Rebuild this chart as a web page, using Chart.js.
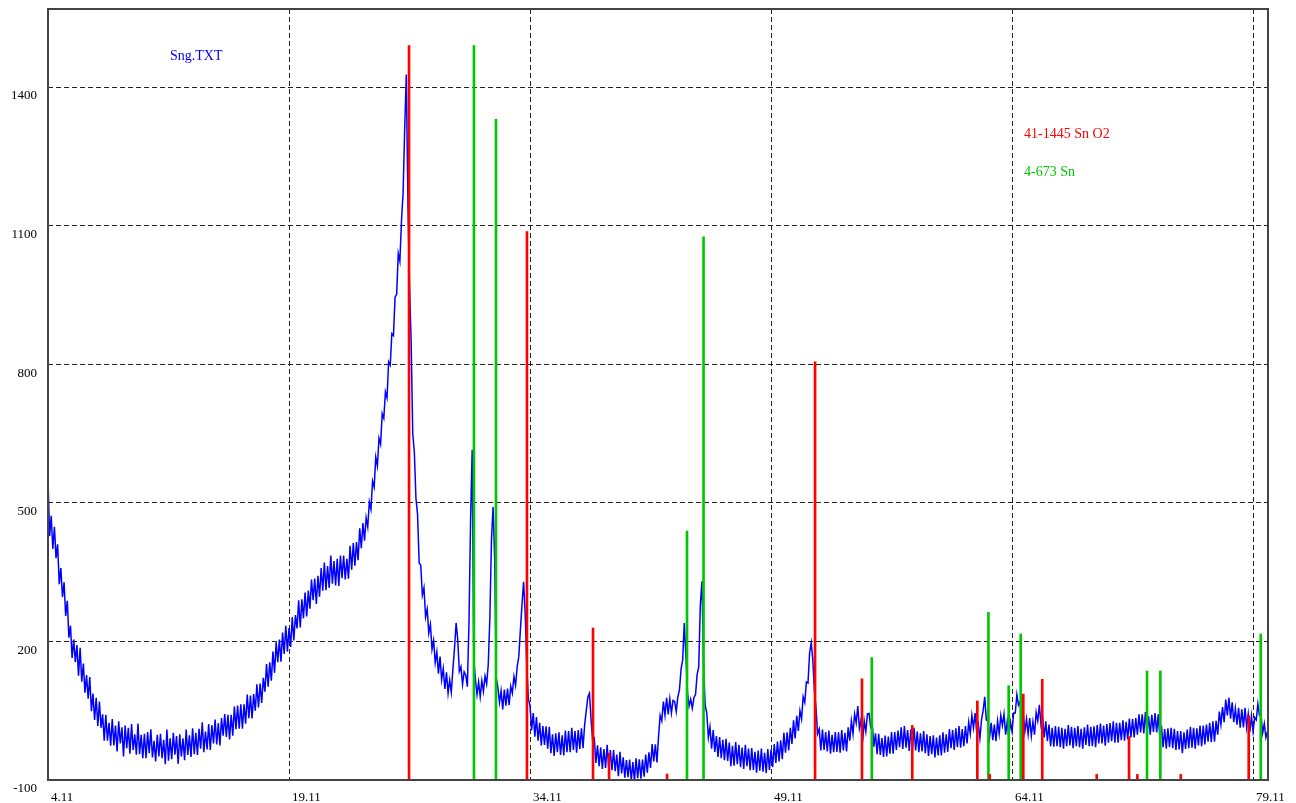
<!DOCTYPE html>
<html>
<head>
<meta charset="utf-8">
<script src="https://cdn.jsdelivr.net/npm/chart.js@4/dist/chart.umd.min.js"></script>
<style>
    html, body { margin: 0; padding: 0; background: #fff; }
    #wrap { width: 1296px; height: 803px; }
</style>
</head>
<body>
<div id="wrap"><canvas id="chart"></canvas></div>
<script>
// Scan: start angle and step (2-theta), then counts, one row per degree
const START_ANGLE = 4.11;
const STEP = 0.1;
const COUNTS = [
    550, 428, 472, 400, 448, 380, 410, 324, 359, 296,
    328, 255, 288, 208, 234, 164, 204, 155, 192, 126,
    186, 113, 152, 89, 127, 76, 123, 49, 87, 30,
    78, 17, 70, 13, 42, -15, 41, -15, 24, -26,
    32, -25, 18, -38, 27, -21, 14, -49, 18, -31,
    13, -43, 21, -35, -1, -45, 22, -44, -2, -53,
    0, -53, 4, -42, 10, -51, -15, -60, -2, -49,
    0, -53, -13, -66, 9, -58, -10, -55, 2, -45,
    -5, -65, -1, -49, -10, -57, 9, -46, -3, -50,
    12, -44, 2, -46, 11, -32, 25, -40, 5, -34,
    21, -35, 19, -21, 31, -23, 23, -25, 34, -4,
    43, -7, 41, -12, 41, -4, 59, 10, 61, 11,
    64, 11, 64, 22, 85, 34, 83, 33, 86, 50,
    107, 57, 109, 67, 121, 91, 151, 102, 155, 115,
    178, 132, 198, 155, 204, 156, 219, 173, 234, 178,
    229, 188, 252, 202, 257, 228, 289, 230, 291, 250,
    306, 254, 310, 271, 334, 289, 336, 281, 342, 297,
    359, 310, 371, 311, 363, 316, 386, 325, 374, 321,
    379, 320, 386, 337, 386, 334, 379, 336, 407, 355,
    413, 364, 415, 376, 445, 402, 456, 418, 468, 448,
    502, 486, 547, 534, 599, 580, 640, 627, 693, 683,
    740, 727, 805, 798, 866, 862, 945, 952, 1040, 1023,
    1110, 1170, 1310, 1427, 1150, 970, 850, 650, 610, 510,
    475, 370, 365, 300, 316, 253, 270, 218, 237, 183,
    202, 154, 177, 130, 167, 117, 141, 97, 133, 88,
    116, 90, 140, 185, 240, 205, 135, 145, 107, 134,
    127, 102, 240, 460, 615, 160, 118, 85, 112, 80,
    115, 92, 125, 108, 150, 250, 420, 491, 380, 120,
    100, 68, 93, 53, 96, 61, 98, 62, 103, 88,
    124, 105, 145, 167, 225, 280, 329, 260, 145, 75,
    61, 8, 45, -6, 36, -15, 24, -25, 17, -24,
    16, -32, 15, -42, -1, -48, 1, -40, 3, -46,
    -3, -47, 7, -40, 6, -40, 13, -35, 6, -41,
    8, -33, 12, -31, 20, 50, 80, 88, 30, -15,
    -10, -63, -25, -70, -29, -76, -33, -74, -24, -75,
    -35, -79, -35, -81, -45, -92, -39, -86, -51, -95,
    -57, -94, -56, -101, -61, -102, -53, -96, -55, -97,
    -56, -93, -45, -84, -40, -74, -22, -60, -23, -62,
    -5, 40, 28, 70, 40, 78, 42, 76, 45, 72,
    70, 48, 80, 95, 140, 160, 240, 170, 90, 60,
    75, 55, 78, 85, 128, 145, 280, 330, 150, 62,
    45, -8, 15, -32, 8, -39, -5, -50, -7, -53,
    -13, -57, -11, -59, -19, -70, -26, -69, -18, -66,
    -24, -72, -30, -76, -24, -70, -32, -79, -31, -78,
    -39, -84, -36, -80, -32, -82, -41, -85, -33, -78,
    -34, -72, -22, -63, -17, -60, -14, -55, 2, -41,
    3, -36, 13, -22, 29, -10, 39, 6, 50, 32,
    80, 68, 112, 110, 175, 197, 160, 92, 55, 0,
    10, -36, 9, -35, 4, -38, 7, -43, -2, -40,
    4, -39, 3, -41, 8, -36, 2, -38, 14, -15,
    28, 0, 43, 24, 60, 12, 30, -17, 28, 5,
    43, 44, 15, 22, -28, 1, -44, 0, -46, -9,
    -50, -4, -49, -6, -43, 4, -43, 4, -35, 7,
    -29, 14, -33, 17, -30, 8, -37, 9, -33, 13,
    -36, 5, -40, 1, -38, 6, -42, -1, -48, -5,
    -44, -3, -51, -8, -47, -3, -47, 3, -41, -1,
    -39, 10, -31, 8, -35, 12, -29, 17, -30, 10,
    -27, 17, -21, 25, 0, 40, 13, 45, 3, 20,
    -10, 30, 50, 80, 30, 28, -8, 24, -14, 20,
    -16, 28, 0, 40, 18, 43, -2, 27, -9, 25,
    5, 45, 45, 85, 62, 70, 28, 42, 5, 32,
    -1, 34, -5, 26, -2, 46, 28, 63, 20, 36,
    -8, 27, -16, 20, -27, 13, -28, 17, -27, 15,
    -29, 13, -32, 11, -27, 19, -25, 15, -31, 13,
    -27, 17, -29, 11, -32, 14, -24, 20, -27, 15,
    -27, 16, -29, 19, -21, 22, -21, 18, -26, 21,
    -19, 23, -16, 27, -19, 24, -19, 24, -14, 29,
    -15, 26, -12, 33, -8, 32, -8, 34, -2, 42,
    3, 42, 1, 47, 2, 38, -2, 41, 4, 45,
    3, 42, -10, 18, -29, 10, -32, 12, -29, 13,
    -31, 11, -35, 6, -34, 6, -42, 3, -33, 9,
    -31, 15, -30, 13, -32, 12, -25, 18, -27, 18,
    -23, 20, -17, 24, -18, 27, -17, 28, -2, 48,
    20, 58, 25, 74, 40, 78, 33, 68, 25, 55,
    20, 56, 13, 53, 14, 56, 14, 43, 4, 39,
    5, 35, 30, 65, 40, 38, 2, 22, -8, 5
];

// Reference cards (stick patterns)
const SNO2_ANGLES = [26.58, 33.92, 38.03, 39.03, 42.64, 51.85, 54.77, 57.90, 61.95, 62.72, 64.81, 65.99, 69.38, 71.39, 71.91, 74.61, 78.84];
const SNO2_TOPS = [1490, 1087, 229, -42, -87, 805, 119, 18, 71, -88, 86, 118, -88, -6, -88, -88, 39];
const SN_ANGLES = [30.62, 31.99, 43.88, 44.91, 55.38, 62.64, 63.90, 64.65, 72.51, 73.34, 79.59];
const SN_TOPS = [1490, 1330, 439, 1076, 165, 263, 104, 216, 136, 136, 216];

const X_TICKS = [4.11, 19.11, 34.11, 49.11, 64.11, 79.11];
const Y_TICKS = [-100, 200, 500, 800, 1100, 1400];
const X_MIN = 4.11, X_MAX = 80.04;
const Y_MIN = -100, Y_MAX = 1569;

const NOTES = [
    { text: 'Sng.TXT', color: '#0000FF', x: 11.7, y: 1466 },
    { text: '41-1445 Sn O2', color: '#FF0000', x: 64.86, y: 1297 },
    { text: '4-673 Sn', color: '#00C800', x: 64.86, y: 1215 }
];

const FONT = 'Liberation Serif';

let framePlugin = {
    id: 'frame',
    afterDatasetsDraw(chart) {
        let { ctx, chartArea: a, scales } = chart;

        ctx.save();
        ctx.strokeStyle = '#444';
        ctx.lineWidth = 2;
        ctx.strokeRect(a.left, a.top, a.right - a.left, a.bottom - a.top);

        ctx.font = '14px "' + FONT + '"';
        ctx.textBaseline = 'middle';
        ctx.textAlign = 'left';
        for (let note of NOTES) {
            ctx.fillStyle = note.color;
            ctx.fillText(note.text, scales.x.getPixelForValue(note.x), scales.y.getPixelForValue(note.y));
        }
        ctx.restore();
    }
};

let scan = COUNTS.map((v, i) => ({ x: START_ANGLE + i * STEP, y: v }));

function sticks(angles, tops) {
    return angles.map((a, i) => ({ x: a, y: [Y_MIN, tops[i]] }));
}

function noOverhang(scale) {
    scale.paddingTop = 0;
    scale.paddingBottom = 0;
    scale.paddingLeft = 0;
    scale.paddingRight = 0;
}

new Chart(document.getElementById('chart'), {
    type: 'line',
    plugins: [framePlugin],
    data: {
        datasets: [
            {
                label: 'Sng.TXT',
                data: scan,
                borderColor: '#0000FF',
                borderWidth: 1.5,
                pointRadius: 0,
                tension: 0,
                order: 1
            },
            {
                type: 'bar',
                label: '41-1445 Sn O2',
                data: sticks(SNO2_ANGLES, SNO2_TOPS),
                backgroundColor: '#FF0000',
                barThickness: 2,
                grouped: false,
                order: 0
            },
            {
                type: 'bar',
                label: '4-673 Sn',
                data: sticks(SN_ANGLES, SN_TOPS),
                backgroundColor: '#00C800',
                barThickness: 2,
                grouped: false,
                order: 0
            }
        ]
    },
    options: {
        responsive: true,
        maintainAspectRatio: false,
        animation: false,
        layout: { padding: { top: 9, right: 28, left: 0, bottom: 0 } },
        scales: {
            x: {
                type: 'linear',
                min: X_MIN,
                max: X_MAX,
                offset: false,
                afterBuildTicks: scale => { scale.ticks = X_TICKS.map(v => ({ value: v })); },
                afterFit: scale => { scale.height = 23; noOverhang(scale); },
                grid: {
                    offset: false,
                    color: ctx => ctx.tick && ctx.tick.value == X_TICKS[0] ? 'rgba(0,0,0,0)' : '#222',
                    lineWidth: 1,
                    drawTicks: false
                },
                border: { display: false, dash: [5, 3] },
                ticks: {
                    align: 'start',
                    labelOffset: 3,
                    padding: 10,
                    maxRotation: 0,
                    color: '#000',
                    font: { family: FONT, size: 13 },
                    callback: v => v.toFixed(2)
                }
            },
            y: {
                min: Y_MIN,
                max: Y_MAX,
                afterBuildTicks: scale => { scale.ticks = Y_TICKS.map(v => ({ value: v })); },
                afterFit: scale => { scale.width = 48; noOverhang(scale); },
                grid: {
                    offset: false,
                    color: ctx => ctx.tick && ctx.tick.value == Y_TICKS[0] ? 'rgba(0,0,0,0)' : '#222',
                    lineWidth: 1,
                    drawTicks: false
                },
                border: { display: false, dash: [5, 3] },
                ticks: {
                    labelOffset: 9,
                    padding: 11,
                    color: '#000',
                    font: { family: FONT, size: 13 },
                    callback: v => String(v)
                }
            }
        },
        plugins: {
            legend: false,
            tooltip: false
        }
    }
});
</script>
</body>
</html>
